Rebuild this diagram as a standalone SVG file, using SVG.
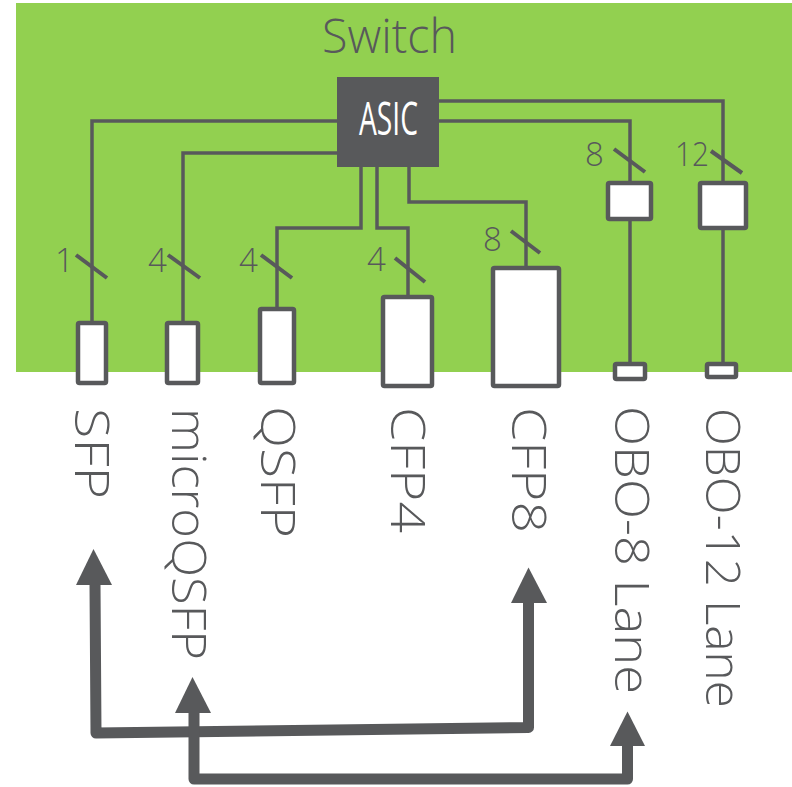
<svg xmlns="http://www.w3.org/2000/svg" width="792" height="787" viewBox="0 0 792 787">
<style>
.box{fill:#ffffff;stroke:#58595b;stroke-width:4.5}
.wire{fill:none;stroke:#58595b;stroke-width:3.5}
.slash{stroke:#58595b;stroke-width:4}
.num{font-family:"Open Sans","Liberation Sans",sans-serif;font-weight:300;font-size:33px;fill:#58595b}
.lbl{font-family:"Open Sans","Liberation Sans",sans-serif;font-weight:300;font-size:47px;fill:#58595b}
.arrow{fill:none;stroke:#58595b;stroke-width:11;stroke-linejoin:round}
.head{fill:#58595b}
</style>
<rect id="switch-bg" x="16" y="3" width="776" height="369" fill="#92d050"/>
<text id="switch-title" x="322" y="53" font-family="Open Sans, Liberation Sans, sans-serif" font-weight="300" font-size="48" fill="#58595b" textLength="135" lengthAdjust="spacingAndGlyphs">Switch</text>

<g id="connectors">
  <path class="wire" d="M337,121 H92 V321"/>
  <path class="wire" d="M337,153 H183 V321"/>
  <path class="wire" d="M361,167 V228 H277 V307"/>
  <path class="wire" d="M377,167 V228 H408 V295"/>
  <path class="wire" d="M409,167 V202 H526 V266"/>
  <path class="wire" d="M439,121 H630 V181 M630,221 V362"/>
  <path class="wire" d="M439,101 H723 V181 M723,230 V362"/>
  <line class="slash" x1="76" y1="255" x2="107" y2="278"/>
  <line class="slash" x1="168" y1="255" x2="200" y2="278"/>
  <line class="slash" x1="261" y1="255" x2="292" y2="278"/>
  <line class="slash" x1="395" y1="258" x2="425" y2="282"/>
  <line class="slash" x1="511" y1="231" x2="540" y2="253"/>
  <line class="slash" x1="614" y1="149" x2="645" y2="172"/>
  <line class="slash" x1="711" y1="151" x2="742" y2="173"/>
  <text class="num" x="55" y="272">1</text>
  <text class="num" x="148" y="272">4</text>
  <text class="num" x="239" y="272">4</text>
  <text class="num" x="367" y="271">4</text>
  <text class="num" x="483" y="251">8</text>
  <text class="num" x="585" y="166">8</text>
  <text class="num" x="675" y="166" textLength="34" lengthAdjust="spacingAndGlyphs">12</text>
  <path class="arrow" d="M95,584 L96,733 L528.5,727.5 L528.5,602"/>
  <polygon class="head" points="93.5,549 76,585 112,585"/>
  <polygon class="head" points="528.5,567.5 511,603 547,603"/>
  <path class="arrow" d="M194,712 L194,779 L627.5,779 L627.5,745"/>
  <polygon class="head" points="192.5,677 175,713 211,713"/>
  <polygon class="head" points="627.5,711.5 610,746 645,746"/>
</g>

<g id="asic">
  <rect x="337" y="77" width="102" height="90" fill="#58595b"/>
  <text x="359" y="135" font-family="Open Sans, Liberation Sans, sans-serif" font-size="45" fill="#ffffff" textLength="59" lengthAdjust="spacingAndGlyphs">ASIC</text>
</g>

<g id="sfp">
  <rect class="box" x="78" y="323" width="28" height="60" rx="1.5"/>
  <text class="lbl" transform="translate(75,408) rotate(90)" textLength="91" lengthAdjust="spacingAndGlyphs">SFP</text>
</g>
<g id="microqsfp">
  <rect class="box" x="167" y="323" width="31" height="60" rx="1.5"/>
  <text class="lbl" transform="translate(172,408) rotate(90)" textLength="252" lengthAdjust="spacingAndGlyphs">microQSFP</text>
</g>
<g id="qsfp">
  <rect class="box" x="260" y="309" width="34" height="74" rx="1.5"/>
  <text class="lbl" transform="translate(261,406) rotate(90)" textLength="132" lengthAdjust="spacingAndGlyphs">QSFP</text>
</g>
<g id="cfp4">
  <rect class="box" x="383" y="297" width="49" height="89" rx="1.5"/>
  <text class="lbl" transform="translate(391,407) rotate(90)" textLength="126" lengthAdjust="spacingAndGlyphs">CFP4</text>
</g>
<g id="cfp8">
  <rect class="box" x="493" y="268" width="66" height="118" rx="1.5"/>
  <text class="lbl" transform="translate(512,407) rotate(90)" textLength="126" lengthAdjust="spacingAndGlyphs">CFP8</text>
</g>
<g id="obo8">
  <rect class="box" x="608" y="183" width="43" height="36" rx="1.5"/>
  <rect class="box" x="615" y="364" width="30" height="15" rx="1.5"/>
  <text class="lbl" transform="translate(615,406) rotate(90)" textLength="288" lengthAdjust="spacingAndGlyphs">OBO-8 Lane</text>
</g>
<g id="obo12">
  <rect class="box" x="700" y="183" width="46" height="45" rx="1.5"/>
  <rect class="box" x="707" y="364" width="29" height="13" rx="1.5"/>
  <text class="lbl" transform="translate(706,408) rotate(90)" textLength="300" lengthAdjust="spacingAndGlyphs">OBO-12 Lane</text>
</g>
</svg>
